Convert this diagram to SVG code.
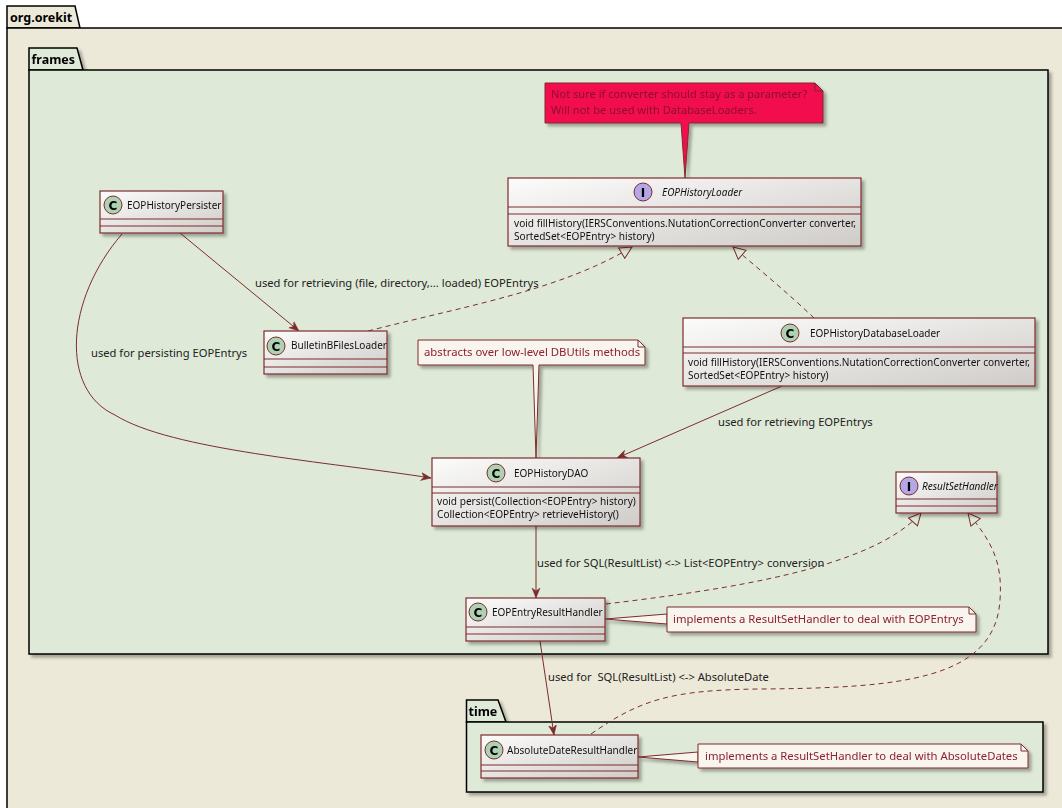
<svg xmlns="http://www.w3.org/2000/svg" width="1062" height="808" viewBox="0 0 1062 808">
<style>
.pkg{stroke:#000;stroke-width:1.5}
.pkgtxt{font-family:"Noto Sans",sans-serif;font-weight:bold;font-size:12.5px;fill:#000}
.cls{fill:url(#cg);stroke:#7D2C2C;stroke-width:1.2}
.div{stroke:#7D2C2C;stroke-width:1}
.cname{font-family:"Noto Sans",sans-serif;font-size:10px;fill:#111}
.iname{font-family:"Noto Sans",sans-serif;font-size:10px;font-style:italic;fill:#111}
.mem{font-family:"Noto Sans",sans-serif;font-size:10.1px;fill:#111}
.circC{fill:#ADD1B2;stroke:#7D2C2C;stroke-width:1}
.circI{fill:#B4A7E5;stroke:#7D2C2C;stroke-width:1}
.glyph{font-family:"DejaVu Sans",sans-serif;font-weight:bold;font-size:12px;fill:#000;text-anchor:middle}
.note{fill:#F8F4EE;stroke:#7D2C2C;stroke-width:1}
.rnote{fill:#F20F4F;stroke:#7D2C2C;stroke-width:1}
.ntxt{font-family:"Noto Sans",sans-serif;font-size:11.3px;fill:#8E2030}
.rtxt{font-family:"Noto Sans",sans-serif;font-size:11.1px;fill:#8E0A2C}
.edge{fill:none;stroke:#7D2C2C;stroke-width:1}
.dash{stroke-dasharray:5,4}
.lbl{font-family:"Noto Sans",sans-serif;font-size:11.2px;fill:#222}
</style>
<defs>
<linearGradient id="cg" x1="0" y1="0" x2="1" y2="1">
<stop offset="0" stop-color="#FCFCFB"/>
<stop offset="1" stop-color="#CFCCC8"/>
</linearGradient>
<filter id="sh" x="-10%" y="-10%" width="130%" height="140%">
<feDropShadow dx="3" dy="3" stdDeviation="1.5" flood-color="#000" flood-opacity="0.3"/>
</filter>
<marker id="arr" viewBox="0 0 10 10" refX="10" refY="5" markerWidth="10" markerHeight="10" markerUnits="userSpaceOnUse" orient="auto">
<path d="M0,1 L10,5 L0,9 L3,5 Z" fill="#7D2C2C" stroke="#7D2C2C" stroke-width="0.5"/>
</marker>
<marker id="tri" viewBox="-1 -1 14 14" refX="12" refY="6" markerWidth="14" markerHeight="14" markerUnits="userSpaceOnUse" orient="auto">
<path d="M0,0 L12,6 L0,12 Z" fill="#DFE9D7" stroke="#7D2C2C" stroke-width="1" stroke-dasharray="none"/>
</marker>
</defs>

<rect x="0" y="0" width="1062" height="808" fill="#FFFFFF"/>

<g id="pkg-org-orekit">
<path class="pkg" d="M7,28 L7,6 L75,6 L80,28 Z" fill="#ECE9D8"/>
<rect class="pkg" x="7" y="28" width="1070" height="800" fill="#ECE9D8"/>
<text class="pkgtxt" x="10" y="22">org.orekit</text>
</g>

<g id="pkg-frames" filter="url(#sh)">
<path class="pkg" d="M29,70 L29,48 L77,48 L83,70 Z" fill="#DFE9D7"/>
<rect class="pkg" x="29" y="70" width="1019" height="584" fill="#DFE9D7"/>
<text class="pkgtxt" x="31.5" y="63.5">frames</text>
</g>

<g id="pkg-time" filter="url(#sh)">
<path class="pkg" d="M466.5,722 L466.5,700 L498,700 L506,722 Z" fill="#DFE9D7"/>
<rect class="pkg" x="466.5" y="722" width="576.5" height="70" fill="#DFE9D7"/>
<text class="pkgtxt" x="468.5" y="716">time</text>
</g>

<g id="connectors">
<path class="edge" d="M180,233 L299,331" marker-end="url(#arr)"/>
<path class="edge" d="M122,234 C65,300 60,390 115,415 C170,450 330,462 431,478" marker-end="url(#arr)"/>
<path class="edge dash" d="M368,331 C470,305 560,290 632,247" marker-end="url(#tri)"/>
<path class="edge dash" d="M814,318 C790,295 760,270 733,247" marker-end="url(#tri)"/>
<path class="edge" d="M782,386 L617,458" marker-end="url(#arr)"/>
<path class="edge" d="M536,526 L536,598" marker-end="url(#arr)"/>
<path class="edge dash" d="M606,604 C720,590 870,570 921,513" marker-end="url(#tri)"/>
<path class="edge" d="M540,641 L554,735" marker-end="url(#arr)"/>
<path class="edge dash" d="M591,734 C640,700 670,690 760,689 C900,688 995,680 1000,600 C1003,560 990,540 968,513" marker-end="url(#tri)"/>
<text class="lbl" x="255" y="287">used for retrieving (file, directory,... loaded) EOPEntrys</text>
<text class="lbl" x="91" y="357">used for persisting EOPEntrys</text>
<text class="lbl" x="718" y="426">used for retrieving EOPEntrys</text>
<text class="lbl" x="537" y="567">used for SQL(ResultList) &lt;-&gt; List&lt;EOPEntry&gt; conversion</text>
<text class="lbl" x="548" y="681" xml:space="preserve">used for  SQL(ResultList) &lt;-&gt; AbsoluteDate</text>
</g>

<g id="note-converter" filter="url(#sh)">
<path class="rnote" d="M545,83 L815,83 L823,91 L823,123 L689,123 L685,178 L681,123 L545,123 Z"/>
<path d="M815,83 L815,91 L823,91" fill="none" stroke="#7D2C2C" stroke-width="1"/>
<text class="rtxt" x="551" y="98">Not sure if converter should stay as a parameter?</text>
<text class="rtxt" x="551" y="114">Will not be used with DatabaseLoaders.</text>
</g>

<g id="EOPHistoryPersister" filter="url(#sh)">
<rect class="cls" x="100" y="191" width="123" height="42"/>
<line class="div" x1="100" y1="219" x2="223" y2="219"/>
<line class="div" x1="100" y1="226" x2="223" y2="226"/>
<circle class="circC" cx="113" cy="205" r="9"/>
<text class="glyph" x="113" y="209.5">C</text>
<text class="cname" x="127" y="208.5">EOPHistoryPersister</text>
</g>

<g id="EOPHistoryLoader" filter="url(#sh)">
<rect class="cls" x="508" y="178" width="353" height="68"/>
<line class="div" x1="508" y1="207" x2="861" y2="207"/>
<line class="div" x1="508" y1="214" x2="861" y2="214"/>
<circle class="circI" cx="643" cy="192" r="9"/>
<text class="glyph" x="643" y="196.5">I</text>
<text class="iname" x="662" y="196">EOPHistoryLoader</text>
<text class="mem" x="514" y="227">void fillHistory(IERSConventions.NutationCorrectionConverter converter,</text>
<text class="mem" x="514" y="240">SortedSet&lt;EOPEntry&gt; history)</text>
</g>

<g id="BulletinBFilesLoader" filter="url(#sh)">
<rect class="cls" x="264" y="331" width="123" height="43"/>
<line class="div" x1="264" y1="359" x2="387" y2="359"/>
<line class="div" x1="264" y1="367" x2="387" y2="367"/>
<circle class="circC" cx="276" cy="346" r="9"/>
<text class="glyph" x="276" y="350.5">C</text>
<text class="cname" x="291" y="349">BulletinBFilesLoader</text>
</g>

<g id="note-dbutils" filter="url(#sh)">
<path class="note" d="M418,340 L638,340 L645,347 L645,365 L539,365 L536,458 L533,365 L418,365 Z"/>
<path d="M638,340 L638,347 L645,347" fill="none" stroke="#7D2C2C" stroke-width="1"/>
<text class="ntxt" x="424" y="356">abstracts over low-level DBUtils methods</text>
</g>

<g id="EOPHistoryDatabaseLoader" filter="url(#sh)">
<rect class="cls" x="683" y="318" width="352" height="68"/>
<line class="div" x1="683" y1="347" x2="1035" y2="347"/>
<line class="div" x1="683" y1="353" x2="1035" y2="353"/>
<circle class="circC" cx="790" cy="333" r="9"/>
<text class="glyph" x="790" y="337.5">C</text>
<text class="cname" x="810" y="337">EOPHistoryDatabaseLoader</text>
<text class="mem" x="688" y="366">void fillHistory(IERSConventions.NutationCorrectionConverter converter,</text>
<text class="mem" x="688" y="379">SortedSet&lt;EOPEntry&gt; history)</text>
</g>

<g id="EOPHistoryDAO" filter="url(#sh)">
<rect class="cls" x="432" y="458" width="208" height="68"/>
<line class="div" x1="432" y1="487" x2="640" y2="487"/>
<line class="div" x1="432" y1="493" x2="640" y2="493"/>
<circle class="circC" cx="496" cy="473" r="9"/>
<text class="glyph" x="496" y="477.5">C</text>
<text class="cname" x="514" y="477">EOPHistoryDAO</text>
<text class="mem" x="437" y="505">void persist(Collection&lt;EOPEntry&gt; history)</text>
<text class="mem" x="437" y="518">Collection&lt;EOPEntry&gt; retrieveHistory()</text>
</g>

<g id="ResultSetHandler" filter="url(#sh)">
<rect class="cls" x="896" y="472" width="101" height="41"/>
<line class="div" x1="896" y1="499" x2="997" y2="499"/>
<line class="div" x1="896" y1="506" x2="997" y2="506"/>
<circle class="circI" cx="909" cy="486" r="9"/>
<text class="glyph" x="909" y="490.5">I</text>
<text class="iname" x="922" y="489.5">ResultSetHandler</text>
</g>

<g id="EOPEntryResultHandler" filter="url(#sh)">
<rect class="cls" x="466" y="598" width="139" height="43"/>
<line class="div" x1="466" y1="627" x2="605" y2="627"/>
<line class="div" x1="466" y1="634" x2="605" y2="634"/>
<circle class="circC" cx="478" cy="612" r="9"/>
<text class="glyph" x="478" y="616.5">C</text>
<text class="cname" x="492" y="616">EOPEntryResultHandler</text>
</g>

<g id="note-eopentrys" filter="url(#sh)">
<path class="note" d="M605,619 L667,614 L667,624 Z"/>
<path class="note" d="M667,607 L969,607 L976,614 L976,632 L667,632 Z"/>
<path d="M969,607 L969,614 L976,614" fill="none" stroke="#7D2C2C" stroke-width="1"/>
<text class="ntxt" x="673" y="623">implements a ResultSetHandler to deal with EOPEntrys</text>
</g>

<g id="AbsoluteDateResultHandler" filter="url(#sh)">
<rect class="cls" x="481" y="735" width="157" height="43"/>
<line class="div" x1="481" y1="765" x2="638" y2="765"/>
<line class="div" x1="481" y1="771" x2="638" y2="771"/>
<circle class="circC" cx="494" cy="750" r="9"/>
<text class="glyph" x="494" y="754.5">C</text>
<text class="cname" x="507" y="754">AbsoluteDateResultHandler</text>
</g>

<g id="note-absolutedates" filter="url(#sh)">
<path class="note" d="M638,757 L698,752 L698,762 Z"/>
<path class="note" d="M698,744 L1021,744 L1028,751 L1028,768 L698,768 Z"/>
<path d="M1021,744 L1021,751 L1028,751" fill="none" stroke="#7D2C2C" stroke-width="1"/>
<text class="ntxt" x="705" y="760">implements a ResultSetHandler to deal with AbsoluteDates</text>
</g>
</svg>
